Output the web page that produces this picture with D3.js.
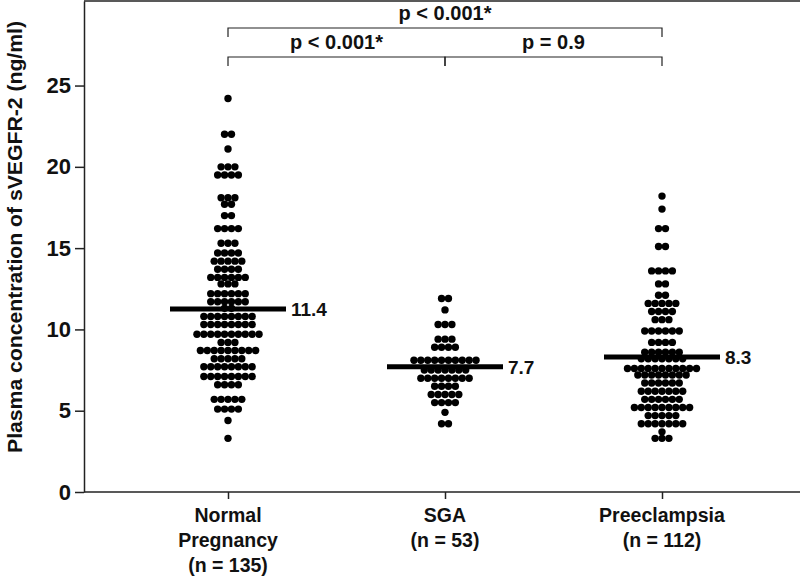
<!DOCTYPE html>
<html><head><meta charset="utf-8">
<script src="https://cdn.jsdelivr.net/npm/d3@7"></script>
<style>body{margin:0;background:#fff}svg{display:block}text{font-family:"Liberation Sans",Arial,Helvetica,sans-serif;font-weight:bold;fill:#111}</style>
</head><body><svg id="c" width="800" height="576"></svg>
<script>
const categories = ["Normal Pregnancy", "SGA", "Preeclampsia"];
const categoryLines = [["Normal", "Pregnancy", "(n = 135)"], ["SGA", "(n = 53)"], ["Preeclampsia", "(n = 112)"]];
const normalPregnancy = [24.2, 22.0,22.0, 21.1, 20.0,20.0,20.0, 19.5,19.5,19.5,19.5, 18.1,18.1,18.1, 17.7,17.7, 17.0,17.0,
  16.2,16.2,16.2,16.2, 15.3,15.3,15.3, 14.7,14.7,14.7,14.7, 14.2,14.2,14.2,14.2,14.2, 13.7,13.7,13.7,13.7,
  13.2,13.2,13.2,13.2,13.2,13.2, 12.8,12.8,12.8, 12.2,12.2,12.2,12.2,12.2,12.2, 11.7,11.7,11.7,11.7,11.7,11.7,
  11.3,11.3, 10.8,10.8,10.8,10.8,10.8,10.8,10.8,10.8, 10.3,10.3,10.3,10.3,10.3,10.3,10.3,10.3,
  9.7,9.7,9.7,9.7,9.7,9.7,9.7,9.7,9.7,9.7, 9.2,9.2,9.2, 8.7,8.7,8.7,8.7,8.7,8.7,8.7,8.7,8.7, 8.2,8.2,8.2,8.2,8.2,
  7.7,7.7,7.7,7.7,7.7,7.7,7.7,7.7, 7.1,7.1,7.1,7.1,7.1,7.1,7.1,7.1, 6.6,6.6,6.6,6.6, 5.7,5.7,5.7,5.7,5.7,
  5.1,5.1,5.1,5.1, 4.4, 3.3];
const sga = [11.9,11.9, 11.2, 10.3,10.3,10.3, 9.4,9.4,9.4, 8.9,8.9,8.9,8.9, 8.1,8.1,8.1,8.1,8.1,8.1,8.1,8.1,8.1,8.1,
  7.5,7.5,7.5,7.5,7.5,7.5,7.5, 7.0,7.0,7.0,7.0,7.0,7.0,7.0,7.0, 6.5,6.5,6.5,6.5, 6.0,6.0,6.0,6.0,6.0,
  5.5,5.5,5.5,5.5, 4.9, 4.2,4.2];
const preeclampsia = [18.2, 17.4, 16.2,16.2, 15.1,15.1, 13.6,13.6,13.6,13.6, 12.8,12.8, 12.1,12.1, 11.6,11.6,11.6,11.6,11.6,
  11.1,11.1,11.1,11.1, 10.6,10.6,10.6, 9.9,9.9,9.9,9.9,9.9,9.9, 9.2,9.2,9.2,9.2, 8.6,8.6,8.6,8.6,8.6,8.6,
  8.2,8.2,8.2,8.2,8.2,8.2,8.2, 7.6,7.6,7.6,7.6,7.6,7.6,7.6,7.6,7.6,7.6,7.6, 7.2,7.2,7.2,7.2,7.2,7.2,7.2,7.2,
  6.7,6.7,6.7,6.7,6.7,6.7, 6.2,6.2,6.2,6.2,6.2,6.2,6.2, 5.7,5.7,5.7,5.7,5.7,5.7, 5.2,5.2,5.2,5.2,5.2,5.2,5.2,5.2,5.2,
  4.7,4.7,4.7,4.7,4.7, 4.2,4.2,4.2,4.2,4.2,4.2,4.2, 3.7, 3.3,3.3,3.3];
const groupLineValues = [11.25, 7.7, 8.3];
const groupLineLabels = ["11.4", "7.7", "8.3"];
const yTicks = [0, 5, 10, 15, 20, 25];
const comparisons = [
  {from: 0, to: 2, label: "p < 0.001*", level: 0},
  {from: 0, to: 1, label: "p < 0.001*", level: 1},
  {from: 1, to: 2, label: "p = 0.9", level: 1}
];

const series = [normalPregnancy, sga, preeclampsia];
const svg = d3.select("#c");
const mLeft = 84, mRight = 800, mTop = 1, mBottom = 492;
const y = d3.scaleLinear().domain([0, 30.2]).range([mBottom, mTop]);
const x = d3.scalePoint().domain(categories).range([228, 662]);

// frame (top and bottom lines)
svg.append("line").attr("x1", mLeft).attr("x2", mRight).attr("y1", mTop).attr("y2", mTop)
  .attr("stroke", "#222").attr("stroke-width", 1.5);
svg.append("line").attr("x1", mLeft).attr("x2", mRight).attr("y1", mBottom).attr("y2", mBottom)
  .attr("stroke", "#222").attr("stroke-width", 1.5);

// y axis
const yAxis = svg.append("g").attr("transform", `translate(${mLeft},0)`)
  .call(d3.axisLeft(y).tickValues(yTicks).tickSize(9).tickPadding(4).tickSizeOuter(0));
yAxis.select(".domain").attr("stroke", "#222").attr("stroke-width", 1.5);
yAxis.selectAll(".tick line").attr("stroke", "#222").attr("stroke-width", 1.5);
yAxis.selectAll(".tick text").attr("font-size", 22).attr("fill", "#111").attr("font-family", "Liberation Sans, Arial, sans-serif").attr("font-weight", "bold");

// x axis
const xAxis = svg.append("g").attr("transform", `translate(0,${mBottom})`)
  .call(d3.axisBottom(x).tickSize(7).tickFormat(""));
xAxis.select(".domain").remove();
xAxis.selectAll(".tick line").attr("stroke", "#222").attr("stroke-width", 1.5);

categoryLines.forEach((lines, i) => {
  const t = svg.append("text").attr("x", x(categories[i])).attr("text-anchor", "middle").attr("font-size", 19.5);
  lines.forEach((l, j) => t.append("tspan").attr("x", x(categories[i])).attr("y", 522 + j * 25).text(l));
});

// y title
svg.append("text").attr("transform", `translate(22,237) rotate(-90)`).attr("text-anchor", "middle")
  .attr("font-size", 20).attr("textLength", 432).attr("lengthAdjust", "spacingAndGlyphs")
  .text("Plasma concentration of sVEGFR-2 (ng/ml)");

// dots (rows of equal values, centred on category)
const spacing = 6.9;
series.forEach((vals, i) => {
  const rows = d3.groups(vals, v => v);
  const pts = [];
  rows.forEach(([v, arr]) => {
    arr.forEach((_, k) => pts.push({v, off: (k - (arr.length - 1) / 2) * spacing}));
  });
  svg.append("g").selectAll("circle").data(pts).join("circle")
    .attr("cx", d => x(categories[i]) + d.off).attr("cy", d => y(d.v)).attr("r", 3.7).attr("fill", "#000");
});

// group lines
groupLineValues.forEach((v, i) => {
  const cx = x(categories[i]);
  svg.append("line").attr("x1", cx - 58).attr("x2", cx + 58).attr("y1", y(v)).attr("y2", y(v))
    .attr("stroke", "#000").attr("stroke-width", 5);
  svg.append("text").attr("x", cx + 63).attr("y", y(v) + 7).attr("font-size", 19).text(groupLineLabels[i]);
});

// comparison brackets
comparisons.forEach(c => {
  const yb = c.level === 0 ? 28 : 57;
  const x1 = x(categories[c.from]), x2 = x(categories[c.to]);
  svg.append("path").attr("d", `M${x1},${yb + 9}V${yb}H${x2}V${yb + 9}`).attr("fill", "none")
    .attr("stroke", "#222").attr("stroke-width", 1.2);
  svg.append("text").attr("x", (x1 + x2) / 2).attr("y", yb - 8).attr("text-anchor", "middle")
    .attr("font-size", 20).text(c.label);
});
</script></body></html>
